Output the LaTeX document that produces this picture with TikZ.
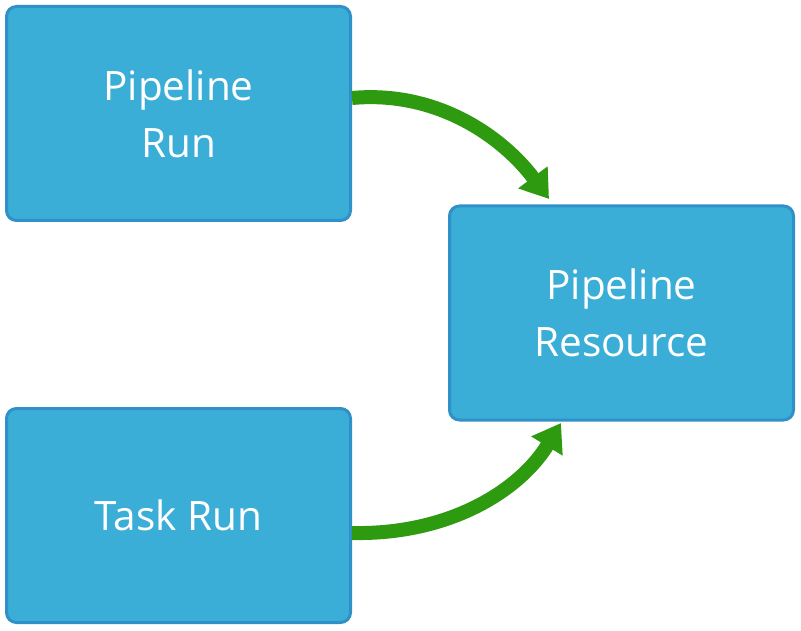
\documentclass[tikz,border=0pt]{standalone}
\usepackage{fontspec}
\setmainfont{Open Sans}
\usetikzlibrary{arrows.meta}
\definecolor{boxfill}{RGB}{59,174,216}
\definecolor{boxline}{RGB}{48,145,200}
\definecolor{arrowgreen}{RGB}{46,154,16}
\begin{document}
\begin{tikzpicture}[x=1pt,y=-1pt,
  box/.style={draw=boxline, line width=3pt, fill=boxfill, rounded corners=10pt,
    minimum width=344pt, minimum height=214pt, inner sep=0pt,
    text=white, font=\fontsize{40.5}{57}\selectfont, align=center},
  flow/.style={draw=arrowgreen, line width=14pt,
    -{Triangle[length=27pt,width=35pt]}}]
\useasboundingbox (0,0) rectangle (801,631);
\node[box] (pr) at (178.5,113.5) {Pipeline\\Run};
\node[box] (tr) at (178.5,515.5) {Task Run};
\node[box] (res) at (621.5,313) {Pipeline\\Resource};
\coordinate (t1) at (549,199);
\coordinate (t2) at (561,423);
\draw[flow] (pr.east |- 0,98) .. controls (440,90) and (505,140) .. (t1);
\draw[flow] (tr.east |- 0,533) .. controls (450,535) and (520,490) .. (t2);
\end{tikzpicture}
\end{document}
